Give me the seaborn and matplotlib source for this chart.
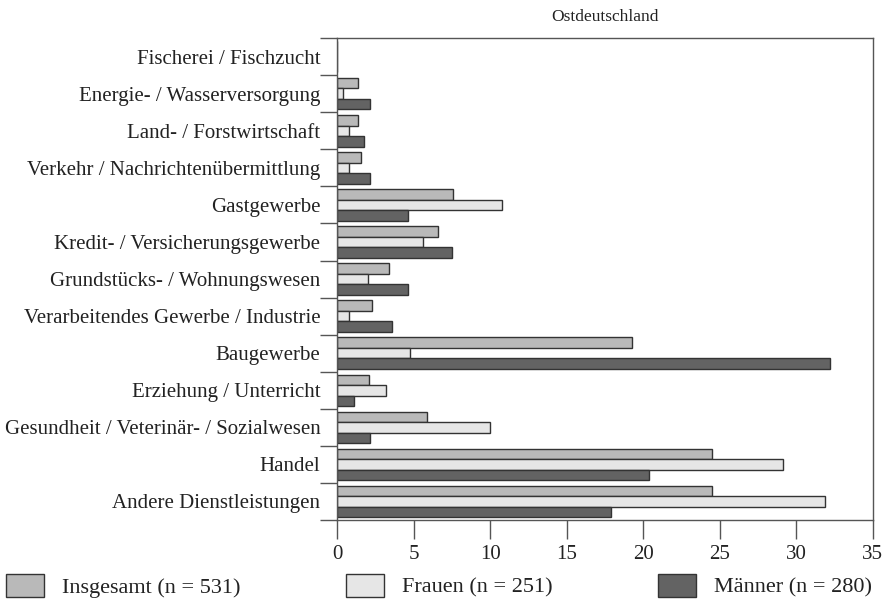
import numpy as np
import pandas as pd
import seaborn as sns
import matplotlib.pyplot as plt

categories = ['Fischerei / Fischzucht', 'Energie- / Wasserversorgung', 'Land- / Forstwirtschaft',
              'Verkehr / Nachrichtenübermittlung', 'Gastgewerbe', 'Kredit- / Versicherungsgewerbe',
              'Grundstücks- / Wohnungswesen', 'Verarbeitendes Gewerbe / Industrie', 'Baugewerbe',
              'Erziehung / Unterricht', 'Gesundheit / Veterinär- / Sozialwesen', 'Handel',
              'Andere Dienstleistungen']
insgesamt = [0.0, 1.35, 1.35, 1.55, 7.55, 6.6, 3.4, 2.26, 19.24, 2.06, 5.86, 24.5, 24.5]
frauen = [0.0, 0.42, 0.8, 0.8, 10.8, 5.6, 2.0, 0.8, 4.79, 3.21, 10.0, 29.14, 31.9]
maenner = [0.0, 2.16, 1.79, 2.16, 4.66, 7.53, 4.66, 3.6, 32.18, 1.08, 2.15, 20.39, 17.87]
series = ['Insgesamt (n = 531)', 'Frauen (n = 251)', 'Männer (n = 280)']
colors = ['#b9b9b9', '#e6e6e6', '#636363']

df = pd.DataFrame({
    'kategorie': categories * 3,
    'wert': insgesamt + frauen + maenner,
    'gruppe': np.repeat(series, len(categories)),
})

sns.set_style('white')
plt.rcParams['font.family'] = ['Liberation Serif', 'DejaVu Serif']

fig = plt.figure(figsize=(8.88, 6.05), dpi=100)
ax = fig.add_axes([0.3795, 0.1405, 0.6035, 0.7965])

sns.barplot(data=df, y='kategorie', x='wert', hue='gruppe', orient='h',
            palette=colors, edgecolor='#333333', linewidth=1.0,
            width=0.85, ax=ax, legend=True)

ax.set_xlim(0, 35)
ax.set_ylim(len(categories) - 0.5, -0.5)
ax.set_xlabel('')
ax.set_ylabel('')
ax.set_xticks(range(0, 36, 5))
ax.tick_params(axis='x', direction='out', length=14, width=1, color='#555555',
               labelsize=15, pad=4, labelcolor='#222222', bottom=True)

# Kategoriegrenzen als Ticks, Beschriftung mittig
ax.set_yticks(np.arange(-0.5, len(categories), 1))
ax.set_yticklabels([])
ax.set_yticks(range(len(categories)), minor=True)
ax.set_yticklabels(categories, minor=True)
ax.tick_params(axis='y', which='major', direction='out', length=12, width=1,
               color='#555555', left=True)
ax.tick_params(axis='y', which='minor', length=0, labelsize=15, pad=12,
               labelcolor='#222222')

for s in ax.spines.values():
    s.set_color('#555555')
    s.set_linewidth(1.0)

ax.set_title('Ostdeutschland', fontsize=12.5, pad=12, color='#222222')

handles, labels = ax.get_legend_handles_labels()
ax.get_legend().remove()
fig.legend(handles, labels, loc='lower left', bbox_to_anchor=(-0.003, -0.003),
           ncol=3, frameon=False, fontsize=16, handlelength=1.71,
           handleheight=1.17, handletextpad=0.81, columnspacing=4.75,
           borderaxespad=0.0, labelcolor='#222222')

fig.savefig('out.png', dpi=100)
